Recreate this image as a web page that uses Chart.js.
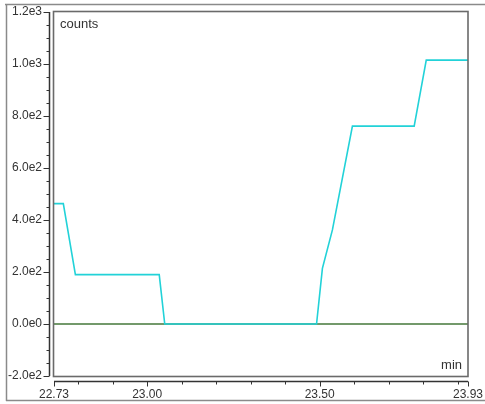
<!DOCTYPE html>
<html>
<head>
<meta charset="utf-8">
<script src="https://cdn.jsdelivr.net/npm/chart.js@4/dist/chart.umd.min.js"></script>
<style>
  html, body { margin: 0; padding: 0; background: #fff; }
  #wrap { width: 485px; height: 404px; }
</style>
</head>
<body>
<div id="wrap"><canvas id="chart" width="485" height="404"></canvas></div>
<script>
// trace 1 (cyan): counts vs retention time (min)
const cyanTimes  = [22.73, 22.757, 22.792, 23.035, 23.051, 23.491, 23.508, 23.537, 23.595, 23.774, 23.809, 23.93];
const cyanCounts = [463,   463,    190,    190,    0,      0,      214,    362,    761,    761,    1015,   1015];
// trace 2 (green): baseline
const greenTimes  = [22.73, 23.93];
const greenCounts = [0, 0];

const xTickValues = [22.73, 23.00, 23.50, 23.93];
const xTickLabels = ['22.73', '23.00', '23.50', '23.93'];
const yTickValues = [-200, 0, 200, 400, 600, 800, 1000, 1200];
const yTickLabels = ['-2.0e2', '0.0e0', '2.0e2', '4.0e2', '6.0e2', '8.0e2', '1.0e3', '1.2e3'];

const FONT = '"Liberation Sans", Arial, sans-serif';

const toPoints = (xs, ys) => xs.map((x, i) => ({ x: x, y: ys[i] }));

// frame, plot box, offset axes with minor ticks, axis titles
const decor = {
  id: 'decor',
  afterDraw(chart) {
    const ctx = chart.ctx;
    const a = chart.chartArea;
    const xs = chart.scales.x, ys = chart.scales.y;
    ctx.save();
    // outer frame
    ctx.strokeStyle = '#8a8a8a';
    ctx.lineWidth = 1.5;
    ctx.beginPath();
    ctx.moveTo(5, 4.5); ctx.lineTo(485, 4.5);
    ctx.moveTo(6.5, 4); ctx.lineTo(6.5, 401);
    ctx.moveTo(6, 400.5); ctx.lineTo(485, 400.5);
    ctx.stroke();
    // plot box
    ctx.strokeStyle = '#6a6a6a';
    ctx.lineWidth = 1.6;
    ctx.strokeRect(a.left - 0.5, a.top - 0.5, a.right - a.left + 0.5, a.bottom - a.top + 1);
    // y axis
    ctx.strokeStyle = '#333';
    ctx.lineWidth = 1.5;
    const yx = a.left - 4.5;
    ctx.beginPath();
    ctx.moveTo(yx, a.top); ctx.lineTo(yx, a.bottom);
    ctx.stroke();
    ctx.lineWidth = 1;
    ctx.beginPath();
    for (let v = -200; v <= 1200; v += 50) {
      const py = Math.round(ys.getPixelForValue(v)) + 0.5;
      const len = (v % 200 === 0) ? 6 : 3;
      ctx.moveTo(yx - len, py); ctx.lineTo(yx, py);
    }
    ctx.stroke();
    // x axis
    const xy = a.bottom + 5.5;
    ctx.lineWidth = 1.5;
    ctx.beginPath();
    ctx.moveTo(a.left, xy); ctx.lineTo(a.right, xy);
    ctx.stroke();
    ctx.lineWidth = 1;
    ctx.beginPath();
    for (let k = 228; k <= 239; k++) {
      const px = Math.round(xs.getPixelForValue(k / 10)) + 0.5;
      ctx.moveTo(px, xy); ctx.lineTo(px, xy + 3);
    }
    xTickValues.forEach(v => {
      const px = Math.round(xs.getPixelForValue(v)) + 0.5;
      ctx.moveTo(px, xy); ctx.lineTo(px, xy + 5);
    });
    ctx.stroke();
    // axis titles inside the box
    ctx.fillStyle = '#333';
    ctx.font = '13px ' + FONT;
    ctx.textBaseline = 'middle';
    ctx.textAlign = 'left';
    ctx.fillText('counts', a.left + 6, a.top + 12);
    ctx.textAlign = 'right';
    ctx.fillText('min', a.right - 6, a.bottom - 11);
    ctx.restore();
  }
};

const ctx = document.getElementById('chart');
const chart = new Chart(ctx, {
  type: 'line',
  data: {
    datasets: [
      {
        label: 'counts',
        data: toPoints(cyanTimes, cyanCounts),
        borderColor: '#22d2d8',
        borderWidth: 1.6,
        pointRadius: 0,
        tension: 0
      },
      {
        label: 'baseline',
        data: toPoints(greenTimes, greenCounts),
        borderColor: 'rgba(80,128,70,0.8)',
        borderWidth: 2,
        pointRadius: 0,
        tension: 0
      }
    ]
  },
  options: {
    responsive: false,
    animation: false,
    layout: { padding: { left: 0, right: 17, top: 12, bottom: 0 } },
    plugins: { legend: { display: false }, tooltip: { enabled: false } },
    scales: {
      x: {
        type: 'linear',
        min: 22.73,
        max: 23.93,
        grid: { display: false, drawTicks: false },
        border: { display: false },
        afterFit: s => { s.height = 28; s.paddingLeft = 0; s.paddingRight = 0; },
        afterBuildTicks: s => { s.ticks = xTickValues.map(v => ({ value: v })); },
        ticks: {
          autoSkip: false,
          maxRotation: 0,
          padding: 11,
          color: '#333',
          font: { family: FONT, size: 12 },
          callback: (v, i) => xTickLabels[i]
        }
      },
      y: {
        min: -200,
        max: 1200,
        grid: { display: false, drawTicks: false },
        border: { display: false },
        afterFit: s => { s.width = 54; s.paddingTop = 0; s.paddingBottom = 0; },
        afterBuildTicks: s => { s.ticks = yTickValues.map(v => ({ value: v })); },
        ticks: {
          autoSkip: false,
          padding: 12,
          color: '#333',
          font: { family: FONT, size: 12 },
          callback: (v, i) => yTickLabels[i]
        }
      }
    }
  },
  plugins: [decor]
});
</script>
</body>
</html>
